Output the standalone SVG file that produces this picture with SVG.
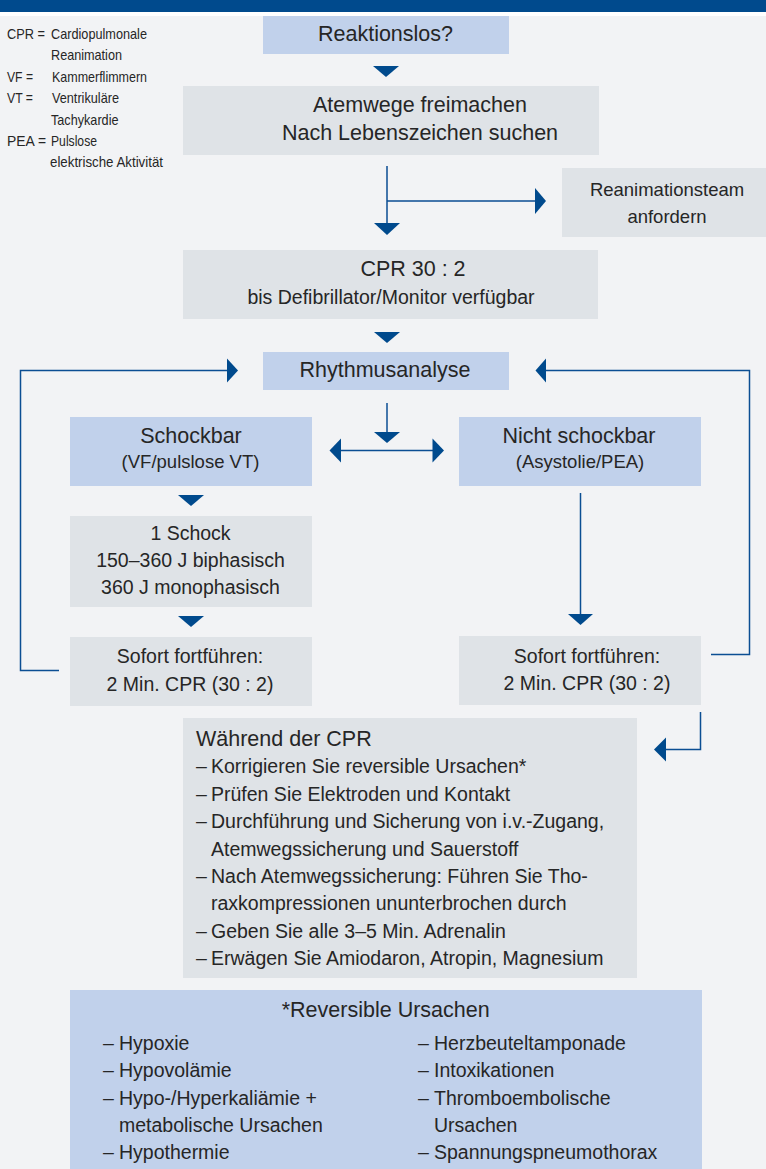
<svg xmlns="http://www.w3.org/2000/svg" width="766" height="1169" viewBox="0 0 766 1169">
<style>
text{font-family:"Liberation Sans",Arial,sans-serif;fill:#262626}
.lb{fill:#c1d1eb}
.gr{fill:#dfe3e7}
.ln{stroke:#0b4e93;stroke-width:1.5;fill:none}
.ah{fill:#004a8d}
.c{text-anchor:middle}
.t21{font-size:21.5px}
.t19{font-size:19.5px}
.t18{font-size:18.5px}
.lg{font-size:14.2px}
</style>
<rect x="0" y="0" width="766" height="1169" fill="#f2f3f5"/>
<rect x="0" y="0" width="766" height="12" fill="#004a8d"/>
<rect x="0" y="12" width="766" height="4" fill="#ffffff"/>

<g id="legend">
<text class="lg" x="7" y="38.5" textLength="38" lengthAdjust="spacingAndGlyphs">CPR =</text><text class="lg" x="51" y="38.5" textLength="96" lengthAdjust="spacingAndGlyphs">Cardiopulmonale</text>
<text class="lg" x="51" y="60" textLength="71" lengthAdjust="spacingAndGlyphs">Reanimation</text>
<text class="lg" x="7" y="81.5" textLength="26" lengthAdjust="spacingAndGlyphs">VF =</text><text class="lg" x="52" y="81.5" textLength="95" lengthAdjust="spacingAndGlyphs">Kammerflimmern</text>
<text class="lg" x="7" y="102.5" textLength="26" lengthAdjust="spacingAndGlyphs">VT =</text><text class="lg" x="52" y="102.5" textLength="67" lengthAdjust="spacingAndGlyphs">Ventrikuläre</text>
<text class="lg" x="51" y="124.5" textLength="67.5" lengthAdjust="spacingAndGlyphs">Tachykardie</text>
<text class="lg" x="7" y="146" textLength="39" lengthAdjust="spacingAndGlyphs">PEA =</text><text class="lg" x="51" y="146" textLength="46" lengthAdjust="spacingAndGlyphs">Pulslose</text>
<text class="lg" x="50" y="167" textLength="113" lengthAdjust="spacingAndGlyphs">elektrische Aktivität</text>
</g>

<g id="reaktionslos">
<rect class="lb" x="263" y="16" width="246" height="38"/>
<text class="t21 c" x="385.5" y="41">Reaktionslos?</text>
</g>

<g id="atemwege">
<rect class="gr" x="183" y="86" width="416" height="69"/>
<text class="t21 c" x="420" y="112">Atemwege freimachen</text>
<text class="t21 c" x="420" y="139.5">Nach Lebenszeichen suchen</text>
</g>

<g id="reanimationsteam">
<rect class="gr" x="562" y="168" width="204" height="69"/>
<text class="t18 c" x="667" y="196">Reanimationsteam</text>
<text class="t18 c" x="667" y="222.5">anfordern</text>
</g>

<g id="cpr">
<rect class="gr" x="183" y="250" width="415" height="69"/>
<text class="t21 c" x="413" y="276">CPR 30 : 2</text>
<text class="t19 c" x="391" y="303.5">bis Defibrillator/Monitor verfügbar</text>
</g>

<g id="rhythmusanalyse">
<rect class="lb" x="263" y="352" width="246" height="38"/>
<text class="t21 c" x="385" y="377">Rhythmusanalyse</text>
</g>

<g id="schockbar">
<rect class="lb" x="70" y="417" width="242" height="69"/>
<text class="t21 c" x="191" y="442.5">Schockbar</text>
<text class="t18 c" x="190.5" y="468">(VF/pulslose VT)</text>
</g>

<g id="nicht-schockbar">
<rect class="lb" x="459" y="417" width="242" height="69"/>
<text class="t21 c" x="579" y="442.5">Nicht schockbar</text>
<text class="t18 c" x="580" y="468">(Asystolie/PEA)</text>
</g>

<g id="schock">
<rect class="gr" x="70" y="516" width="242" height="91"/>
<text class="t19 c" x="190.5" y="540">1 Schock</text>
<text class="t19 c" x="190.5" y="567">150–360 J biphasisch</text>
<text class="t19 c" x="190.5" y="594">360 J monophasisch</text>
</g>

<g id="sofort-links">
<rect class="gr" x="70" y="637" width="242" height="69"/>
<text class="t19 c" x="190" y="663">Sofort fortführen:</text>
<text class="t19 c" x="190" y="690.5">2 Min. CPR (30 : 2)</text>
</g>

<g id="sofort-rechts">
<rect class="gr" x="459" y="636" width="242" height="69"/>
<text class="t19 c" x="587" y="662.5">Sofort fortführen:</text>
<text class="t19 c" x="587" y="690">2 Min. CPR (30 : 2)</text>
</g>

<g id="waehrend-cpr">
<rect class="gr" x="183" y="718" width="454" height="260"/>
<text class="t21" x="196" y="745.5">Während der CPR</text>
<text class="t19"><tspan x="196" y="773.3">–</tspan><tspan x="211" y="773.3">Korrigieren Sie reversible Ursachen*</tspan></text>
<text class="t19"><tspan x="196" y="800.7">–</tspan><tspan x="211" y="800.7">Prüfen Sie Elektroden und Kontakt</tspan></text>
<text class="t19"><tspan x="196" y="828.1">–</tspan><tspan x="211" y="828.1">Durchführung und Sicherung von i.v.-Zugang,</tspan></text>
<text class="t19" x="211" y="855.5">Atemwegssicherung und Sauerstoff</text>
<text class="t19"><tspan x="196" y="882.9">–</tspan><tspan x="211" y="882.9">Nach Atemwegssicherung: Führen Sie Tho-</tspan></text>
<text class="t19" x="211" y="910.3">raxkompressionen ununterbrochen durch</text>
<text class="t19"><tspan x="196" y="937.7">–</tspan><tspan x="211" y="937.7">Geben Sie alle 3–5 Min. Adrenalin</tspan></text>
<text class="t19"><tspan x="196" y="965.1">–</tspan><tspan x="211" y="965.1">Erwägen Sie Amiodaron, Atropin, Magnesium</tspan></text>
</g>

<g id="reversible-ursachen">
<rect class="lb" x="70" y="990" width="632" height="179"/>
<text class="t21 c" x="385.7" y="1016.5">*Reversible Ursachen</text>
<text class="t19"><tspan x="103" y="1050">–</tspan><tspan x="119" y="1050">Hypoxie</tspan></text>
<text class="t19"><tspan x="103" y="1077.3">–</tspan><tspan x="119" y="1077.3">Hypovolämie</tspan></text>
<text class="t19"><tspan x="103" y="1104.6">–</tspan><tspan x="119" y="1104.6">Hypo-/Hyperkaliämie +</tspan></text>
<text class="t19" x="119" y="1131.9">metabolische Ursachen</text>
<text class="t19"><tspan x="103" y="1159.2">–</tspan><tspan x="119" y="1159.2">Hypothermie</tspan></text>
<text class="t19"><tspan x="418" y="1050">–</tspan><tspan x="434" y="1050">Herzbeuteltamponade</tspan></text>
<text class="t19"><tspan x="418" y="1077.3">–</tspan><tspan x="434" y="1077.3">Intoxikationen</tspan></text>
<text class="t19"><tspan x="418" y="1104.6">–</tspan><tspan x="434" y="1104.6">Thromboembolische</tspan></text>
<text class="t19" x="434" y="1131.9">Ursachen</text>
<text class="t19"><tspan x="418" y="1159.2">–</tspan><tspan x="434" y="1159.2">Spannungspneumothorax</tspan></text>
</g>

<g id="connectors">
<!-- Reaktionslos -> Atemwege -->
<polygon class="ah" points="373,66 399,66 386,77"/>
<!-- Atemwege -> CPR, with branch to Reanimationsteam -->
<path class="ln" d="M387,166 V224 M387,201 H536"/>
<polygon class="ah" points="374,223 400,223 387,235"/>
<polygon class="ah" points="535,188 546,201 535,214"/>
<!-- CPR -> Rhythmusanalyse -->
<polygon class="ah" points="374,332 400,332 387,343"/>
<!-- Rhythmusanalyse -> split -->
<path class="ln" d="M387,403 V433"/>
<polygon class="ah" points="374,432 400,432 387,443"/>
<path class="ln" d="M340,450.5 H433"/>
<polygon class="ah" points="341,438.5 329.5,450.5 341,462.5"/>
<polygon class="ah" points="432.5,438.5 444,450.5 432.5,462.5"/>
<!-- Schockbar chain -->
<polygon class="ah" points="178,495 204,495 191,506"/>
<polygon class="ah" points="178,616 204,616 191,627"/>
<!-- Nicht schockbar -> Sofort -->
<path class="ln" d="M580.5,493 V615"/>
<polygon class="ah" points="568,614 593,614 580.5,625"/>
<!-- Left loop -->
<path class="ln" d="M59,670.5 H20.5 V370.5 H228"/>
<polygon class="ah" points="227,358.5 238,370.5 227,382.5"/>
<!-- Right loop -->
<path class="ln" d="M711,654.5 H749.5 V370.5 H545"/>
<polygon class="ah" points="546,358.5 535.5,370.5 546,382.5"/>
<!-- Sofort rechts -> Waehrend -->
<path class="ln" d="M700.5,712 V749.5 H665"/>
<polygon class="ah" points="666,737.5 654,749.5 666,761.5"/>
</g>
</svg>
